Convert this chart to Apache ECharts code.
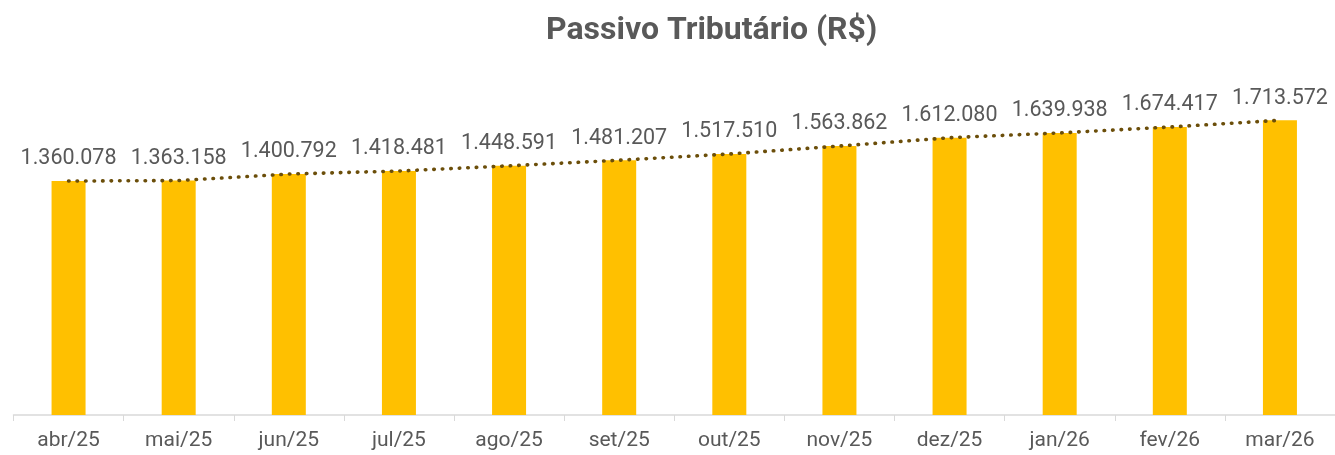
<!DOCTYPE html>
<html><head><meta charset="utf-8">
<script src="https://cdn.jsdelivr.net/npm/echarts@6/dist/echarts.min.js"></script>
<style>html,body{margin:0;padding:0;background:#fff}#c{width:1335px;height:455px}</style>
</head><body><div id="c"></div>
<script>
const categories = ['abr/25','mai/25','jun/25','jul/25','ago/25','set/25','out/25','nov/25','dez/25','jan/26','fev/26','mar/26'];
const values = [1360078,1363158,1400792,1418481,1448591,1481207,1517510,1563862,1612080,1639938,1674417,1713572];
const titleText = 'Passivo Tributário (R$)';

function fmt(v){ return String(v).replace(/\B(?=(\d{3})+(?!\d))/g,'.'); }

const chart = echarts.init(document.getElementById('c'), null, {renderer:'canvas'});
chart.setOption({
  animation:false,
  backgroundColor:'#fff',
  title:{text:titleText,left:541,top:10,textStyle:{fontFamily:'Roboto',fontWeight:'bold',fontSize:32,color:'#595959'}},
  grid:{left:13.5,right:-4.8,top:71,bottom:40},
  xAxis:{type:'category',data:categories,
    axisLine:{lineStyle:{color:'#d9d9d9',width:1.5}},
    axisTick:{show:true,length:6,lineStyle:{color:'#d9d9d9'}},
    axisLabel:{fontFamily:'Roboto',fontSize:21,color:'#595959',margin:15}},
  yAxis:{type:'value',min:0,max:2000000,show:false,splitLine:{show:false}},
  series:[
    {type:'bar',data:values,barWidth:34,itemStyle:{color:'#FFC000'},
     label:{show:true,position:'top',distance:11,fontFamily:'Roboto',fontSize:21.5,color:'#595959',formatter:p=>fmt(p.value)}},
    {type:'line',data:values,symbol:'none',z:5,
     lineStyle:{color:'#6B4E0A',width:3.6,type:[0.5,8],cap:'round'}}
  ]
});
</script></body></html>
